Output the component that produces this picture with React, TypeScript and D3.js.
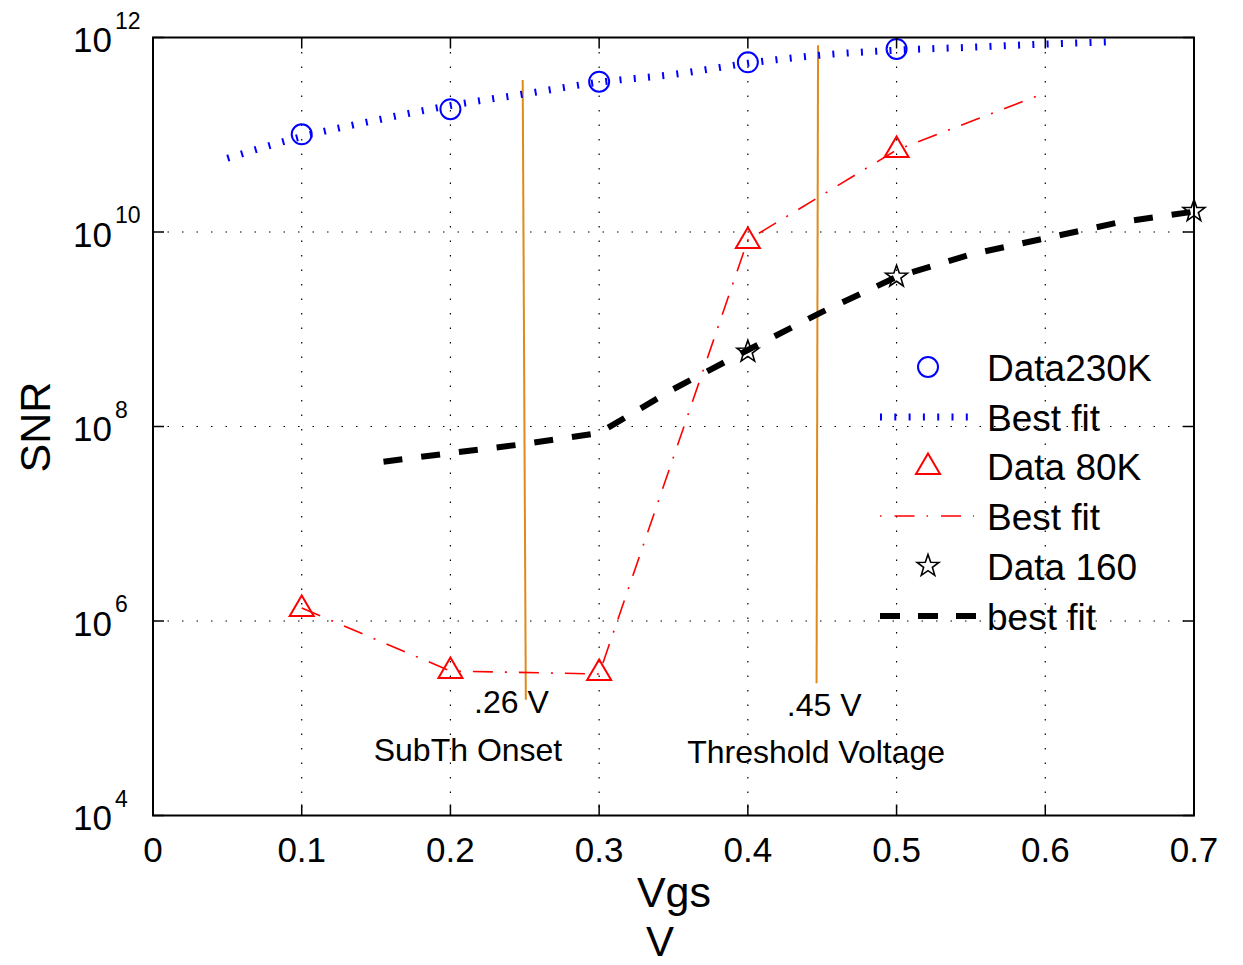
import React from 'react';
import * as d3 from 'd3';

const W = 1243;
const H = 965;

// ticks
const xTicks = [0, 0.1, 0.2, 0.3, 0.4, 0.5, 0.6, 0.7];
const xTickLabels = ['0', '0.1', '0.2', '0.3', '0.4', '0.5', '0.6', '0.7'];
const yTickExps = [4, 6, 8, 10, 12];
const xGrid = [0.1, 0.2, 0.3, 0.4, 0.5, 0.6];
const yGridExps = [6, 8, 10];

// Data 230K
const d230X = [0.1, 0.2, 0.3, 0.4, 0.5];
const d230Y = [1.01e11, 1.83e11, 3.51e11, 5.56e11, 7.62e11];
const fit230X = [0.05, 0.1, 0.15, 0.2, 0.25, 0.3, 0.35, 0.4, 0.45, 0.5, 0.55, 0.6, 0.648];
const fit230Y = [5.73e10, 9.55e10, 1.41e11, 2.0e11, 2.63e11, 3.47e11, 4.17e11, 5.43e11, 6.61e11, 7.41e11, 7.94e11, 8.57e11, 9.06e11];

// Data 80K
const d80X = [0.1, 0.2, 0.3, 0.4, 0.5];
const d80Y = [1.36e6, 3.13e5, 2.99e5, 8.28e9, 7.13e10];
const fit80X = [0.1, 0.2, 0.3, 0.4, 0.5, 0.6];
const fit80Y = [1.36e6, 3.06e5, 2.85e5, 8.28e9, 6.97e10, 2.69e11];

// Data 160
const d160X = [0.4, 0.5, 0.7];
const d160Y = [5.87e8, 3.47e9, 1.64e10];
const fit160X = [0.155, 0.2, 0.25, 0.3, 0.35, 0.4, 0.45, 0.5, 0.55, 0.6, 0.65, 0.7];
const fit160Y = [4.35e7, 5.33e7, 6.61e7, 8.57e7, 2.43e8, 6.12e8, 1.51e9, 3.45e9, 5.89e9, 8.61e9, 1.26e10, 1.62e10];

// vertical markers
const vline1X = [0.2486, 0.2507];
const vline1Y = [3.66e11, 1.55e5];
const vline2X = [0.4472, 0.4462];
const vline2Y = [8.32e11, 2.29e5];

// annotations
const annText = ['.26 V', 'SubTh Onset', '.45 V', 'Threshold Voltage'];
const annX = [0.241, 0.2118, 0.4513, 0.4459];
const annY = [1.13e5, 3.6e4, 1.05e5, 3.5e4];

const legendLabels = ['Data230K', 'Best fit', 'Data 80K', 'Best fit', 'Data 160', 'best fit'];

const BLUE = '#0000ff';
const RED = '#ff0000';
const ORANGE = '#e08a1c';
const FONT = '"Liberation Sans", Arial, Helvetica, sans-serif';

function starPath(cx: number, cy: number, ro: number, ri: number) {
  const pts: string[] = [];
  for (let i = 0; i < 10; i++) {
    const r = i % 2 === 0 ? ro : ri;
    const a = -Math.PI / 2 + (i * Math.PI) / 5;
    pts.push(`${cx + r * Math.cos(a)},${cy + r * Math.sin(a)}`);
  }
  return 'M' + pts.join('L') + 'Z';
}
function triPath(cx: number, cy: number) {
  return `M${cx},${cy - 12.5}L${cx + 12},${cy + 8}L${cx - 12},${cy + 8}Z`;
}

export default function App() {
  const x = d3.scaleLinear().domain([0, 0.7]).range([153, 1194]);
  const y = d3.scaleLog().domain([1e4, 1e12]).range([815.5, 37.5]);
  const x0 = x(0), x1 = x(0.7), yTop = y(1e12), yBot = y(1e4);

  const line = (xs: number[], ys: number[], curve = d3.curveLinear) =>
    d3.line<number>().x((_, i) => x(xs[i])).y((_, i) => y(ys[i])).curve(curve)(xs.map((_, i) => i)) || '';

  const legendRows = [367, 417, 466, 516, 566, 616];
  const lx0 = 880, lmid = 928, ltext = 987;

  return (
    <svg width={W} height={H} style={{ position: 'absolute', left: 0, top: 0, background: '#fff' }} fontFamily={FONT}>
      <rect x={0} y={0} width={W} height={H} fill="#fff" />
      {/* grid */}
      {xGrid.map((v) => (
        <line key={'gx' + v} x1={x(v)} x2={x(v)} y1={yTop} y2={yBot} stroke="#000" strokeWidth={1.2} strokeDasharray="1.5 13" />
      ))}
      {yGridExps.map((e) => (
        <line key={'gy' + e} x1={x0} x2={x1} y1={y(Math.pow(10, e))} y2={y(Math.pow(10, e))} stroke="#000" strokeWidth={1.2} strokeDasharray="1.5 13" />
      ))}

      {/* orange vertical lines */}
      <path d={line(vline1X, vline1Y)} stroke={ORANGE} strokeWidth={2} fill="none" />
      <path d={line(vline2X, vline2Y)} stroke={ORANGE} strokeWidth={2} fill="none" />

      {/* fits */}
      <path d={line(fit230X, fit230Y, d3.curveMonotoneX)} stroke={BLUE} strokeWidth={7} strokeDasharray="2 12.3" fill="none" />
      <path d={line(fit80X, fit80Y)} stroke={RED} strokeWidth={1.6} strokeDasharray="20 12 2 12" fill="none" />
      <path d={line(fit160X, fit160Y)} stroke="#000" strokeWidth={6} strokeDasharray="19 19" fill="none" />

      {/* markers */}
      {d230X.map((v, i) => (
        <circle key={'c' + i} cx={x(v)} cy={y(d230Y[i])} r={10} fill="none" stroke={BLUE} strokeWidth={2} />
      ))}
      {d80X.map((v, i) => (
        <path key={'t' + i} d={triPath(x(v), y(d80Y[i]))} fill="none" stroke={RED} strokeWidth={2} />
      ))}
      {d160X.map((v, i) => (
        <path key={'s' + i} d={starPath(x(v), y(d160Y[i]), 11.5, 4.6)} fill="none" stroke="#000" strokeWidth={1.6} />
      ))}

      {/* axes box */}
      <rect x={x0} y={yTop} width={x1 - x0} height={yBot - yTop} fill="none" stroke="#000" strokeWidth={2} />
      {xTicks.map((v) => (
        <g key={'xt' + v}>
          <line x1={x(v)} x2={x(v)} y1={yBot} y2={yBot - 11} stroke="#000" strokeWidth={1.5} />
          <line x1={x(v)} x2={x(v)} y1={yTop} y2={yTop + 11} stroke="#000" strokeWidth={1.5} />
        </g>
      ))}
      {yTickExps.map((e) => (
        <g key={'yt' + e}>
          <line x1={x0} x2={x0 + 11} y1={y(Math.pow(10, e))} y2={y(Math.pow(10, e))} stroke="#000" strokeWidth={1.5} />
          <line x1={x1} x2={x1 - 11} y1={y(Math.pow(10, e))} y2={y(Math.pow(10, e))} stroke="#000" strokeWidth={1.5} />
        </g>
      ))}

      {/* tick labels */}
      {xTicks.map((v, i) => (
        <text key={'xl' + v} x={x(v)} y={yBot + 46} textAnchor="middle" fontSize={35} fill="#000">
          {xTickLabels[i]}
        </text>
      ))}
      {yTickExps.map((e) => (
        <g key={'yl' + e}>
          <text x={112} y={y(Math.pow(10, e)) + 14.5} textAnchor="end" fontSize={35} fill="#000">10</text>
          <text x={115} y={y(Math.pow(10, e)) - 9} textAnchor="start" fontSize={23} fill="#000">{String(e)}</text>
        </g>
      ))}

      {/* axis labels */}
      <text x={674} y={907} textAnchor="middle" fontSize={43} fill="#000">Vgs</text>
      <text x={660} y={956} textAnchor="middle" fontSize={42} fill="#000">V</text>
      <text transform="translate(50,427) rotate(-90)" textAnchor="middle" fontSize={43} fill="#000">SNR</text>

      {/* annotations */}
      {annText.map((t, i) => (
        <text key={'a' + i} x={x(annX[i])} y={y(annY[i])} textAnchor="middle" fontSize={32} fill="#000">{t}</text>
      ))}

      {/* legend */}
      <circle cx={lmid} cy={legendRows[0]} r={10} fill="none" stroke={BLUE} strokeWidth={2} />
      <line x1={lx0} x2={970} y1={legendRows[1]} y2={legendRows[1]} stroke={BLUE} strokeWidth={7} strokeDasharray="2 12.3" />
      <path d={triPath(lmid, legendRows[2])} fill="none" stroke={RED} strokeWidth={2} />
      <line x1={lx0} x2={974} y1={legendRows[3]} y2={legendRows[3]} stroke={RED} strokeWidth={1.6} strokeDasharray="1.5 13 20 12" />
      <path d={starPath(lmid, legendRows[4], 11.5, 4.6)} fill="none" stroke="#000" strokeWidth={1.6} />
      <line x1={lx0} x2={976} y1={legendRows[5]} y2={legendRows[5]} stroke="#000" strokeWidth={6} strokeDasharray="20 18" />
      {legendLabels.map((t, i) => (
        <text key={'l' + i} x={ltext} y={legendRows[i] + 13.5} fontSize={37} fill="#000">{t}</text>
      ))}
    </svg>
  );
}
